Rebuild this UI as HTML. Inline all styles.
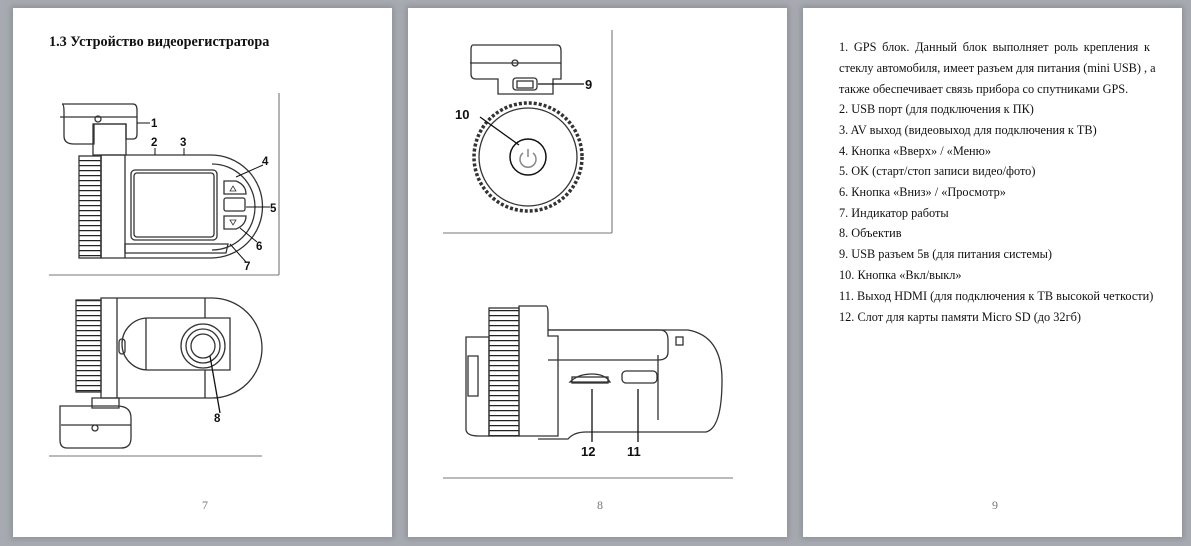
<!DOCTYPE html>
<html><head><meta charset="utf-8"><style>
html,body{margin:0;padding:0}
body{width:1191px;height:546px;background:#a7abb1;position:relative;overflow:hidden;font-family:"Liberation Serif",serif}
.pg{position:absolute;top:8px;width:379px;height:529px;background:#fff;box-shadow:0 0 6px 2px #8d9197}
.num{position:absolute;top:490px;font-size:12px;color:#777;width:20px;text-align:center}
.t{position:absolute;left:36px;font-size:12.3px;color:#111;white-space:nowrap}
svg{position:absolute;left:0;top:0}
</style></head><body>
<div class="pg" style="left:13px"><div style="position:absolute;left:36px;top:26px;font-weight:bold;font-size:14.2px;color:#111">1.3 Устройство видеорегистратора</div><div class="num" style="left:182px">7</div></div>
<div class="pg" style="left:408px"><div class="num" style="left:182px">8</div></div>
<div class="pg" style="left:803px">
<div class="t" style="top:32px;width:311px;text-align:justify;text-align-last:justify">1. GPS блок. Данный блок выполняет роль крепления к</div>
<div class="t" style="top:53px;width:311px;text-align:justify;text-align-last:justify">стеклу автомобиля, имеет разъем для питания (mini USB) , а</div>
<div class="t" style="top:74px">также обеспечивает связь прибора со спутниками GPS.</div>
<div class="t" style="top:94px">2. USB порт (для подключения к ПК)</div>
<div class="t" style="top:115px">3. AV выход (видеовыход для подключения к ТВ)</div>
<div class="t" style="top:136px">4. Кнопка «Вверх» / «Меню»</div>
<div class="t" style="top:156px">5. OK (старт/стоп записи видео/фото)</div>
<div class="t" style="top:177px">6. Кнопка «Вниз» / «Просмотр»</div>
<div class="t" style="top:198px">7. Индикатор работы</div>
<div class="t" style="top:218px">8. Объектив</div>
<div class="t" style="top:239px">9. USB разъем 5в (для питания системы)</div>
<div class="t" style="top:260px">10. Кнопка «Вкл/выкл»</div>
<div class="t" style="top:281px">11. Выход HDMI (для подключения к ТВ высокой четкости)</div>
<div class="t" style="top:302px">12. Слот для карты памяти Micro SD (до 32гб)</div>
<div class="num" style="left:182px">9</div>
</div>
<svg width="1191" height="546" fill="none" stroke="#333" stroke-width="1.3">
<defs><pattern id="rib" width="22" height="5" patternUnits="userSpaceOnUse"><rect width="22" height="5" fill="#fff" stroke="none"/><line x1="0" y1="0.5" x2="22" y2="0.5" stroke="#222" stroke-width="1.6"/></pattern></defs>
<g stroke="#777" stroke-width="1.1"><line x1="279" y1="93" x2="279" y2="275"/><line x1="49" y1="275" x2="279" y2="275"/>
<line x1="49" y1="456" x2="262" y2="456"/><line x1="612" y1="30" x2="612" y2="233"/><line x1="443" y1="233" x2="612" y2="233"/><line x1="443" y1="478" x2="733" y2="478"/></g>
<!-- drawing 1 -->
<path d="M62 104 h71 q4 0 4 6 v24 q0 5 -4 5 h-7 v-15 h-32 v20 h-20 q-10 0 -10 -8 v-24 q0 -8 -2 -8z"/>
<line x1="60" y1="117" x2="137" y2="117"/><circle cx="98" cy="119" r="3"/>
<path d="M93 124 h33 v31 h-33z"/>
<rect x="79" y="156" width="22" height="102" fill="url(#rib)"/>
<path d="M101 155 h110 a51 51 0 0 1 0 103 h-110z"/>
<path d="M212 164 a42 42 0 0 1 0 86"/>
<line x1="101" y1="155" x2="101" y2="258"/><line x1="125" y1="155" x2="125" y2="258"/>
<rect x="131" y="170" width="86" height="70" rx="4"/><rect x="134" y="173" width="80" height="64" rx="3"/>
<path d="M224 181 h12 q10 4 10 13 h-22z"/><rect x="224" y="198" width="21" height="13" rx="2"/><path d="M224 216 h22 q0 9 -10 13 h-12z"/>
<path d="M230 191 l3 -5 l3 5z M230 220 l3 5 l3 -5z" stroke-width="0.8"/>
<path d="M125 244 h103 l-2 9 h-101z"/>
<g stroke="#111" stroke-width="1"><line x1="137" y1="123" x2="150" y2="123"/><line x1="155" y1="148" x2="155" y2="155"/><line x1="184" y1="148" x2="184" y2="155"/><line x1="263" y1="165" x2="236" y2="177"/><line x1="270" y1="207" x2="246" y2="207"/><line x1="257" y1="242" x2="240" y2="228"/><line x1="246" y1="262" x2="230" y2="244"/></g>
<!-- drawing 2 -->
<rect x="76" y="300" width="25" height="92" fill="url(#rib)"/>
<path d="M101 298 h111 a50 50 0 0 1 0 100 h-111z"/><line x1="117" y1="298" x2="117" y2="398"/>
<path d="M148 318 h82 v52 h-82 a26 26 0 0 1 0 -52z"/><line x1="146" y1="318" x2="146" y2="370"/><line x1="205" y1="298" x2="205" y2="318"/><line x1="205" y1="370" x2="205" y2="398"/>
<circle cx="203" cy="346" r="22"/><circle cx="203" cy="346" r="17"/><circle cx="203" cy="346" r="12"/>
<rect x="119" y="339" width="6" height="15" rx="3"/>
<path d="M92 398 h27 v10 h-27z"/><path d="M62 406 h55 q14 0 14 12 v20 q0 10 -10 10 h-54 q-7 0 -7 -8 v-34z"/>
<line x1="61" y1="425" x2="131" y2="425"/><circle cx="95" cy="428" r="3"/>
<line x1="220" y1="413" x2="210" y2="356" stroke="#111"/>
<!-- page2 drawing 1 -->
<path d="M473 45 h84 q4 0 4 6 v28 h-8 v15 h-55 v-15 h-22 q-5 0 -5 -5 v-24 q0 -5 2 -5z"/><line x1="470" y1="63" x2="561" y2="63"/><circle cx="515" cy="63" r="3"/>
<rect x="513" y="78" width="24" height="12" rx="3"/><rect x="517" y="81" width="16" height="7"/>
<circle cx="528" cy="157" r="54" stroke-width="3.5" stroke-dasharray="3 2"/><circle cx="528" cy="157" r="49"/>
<circle cx="528" cy="157" r="18" stroke="#111" stroke-width="1.5"/>
<path d="M523 153 a8 8 0 1 0 10 0 M528 149 v8" stroke="#888" stroke-width="1.5"/>
<g stroke="#111"><line x1="538" y1="84" x2="584" y2="84"/><line x1="480" y1="117" x2="519" y2="145"/></g>
<!-- page2 drawing 2 -->
<rect x="489" y="308" width="30" height="128" fill="url(#rib)"/>
<path d="M519 306 h27 q2 0 2 8 v22 h10 v100 h-39z"/>
<path d="M548 330 h120 q10 0 20 0 q34 6 34 50 q0 48 -16 52 h-120 q-12 0 -18 7 h-30"/>
<path d="M548 330 h112 q8 0 8 10 v12 q0 8 -10 8 h-110"/>
<path d="M466 337 h23 v99 h-10 q-12 0 -13 -6z"/><path d="M468 356 h10 v40 h-10z"/>
<path d="M570 382 h40 q-5 -8 -18 -8 q-14 0 -22 8z"/><rect x="572" y="377" width="36" height="6"/>
<rect x="622" y="371" width="35" height="12" rx="4"/><line x1="658" y1="355" x2="658" y2="420"/>
<rect x="676" y="337" width="7" height="8"/>
<g stroke="#111"><line x1="592" y1="389" x2="592" y2="442"/><line x1="638" y1="389" x2="638" y2="442"/></g>
<g fill="#111" stroke="none" font-family="Liberation Sans,sans-serif" font-weight="bold" font-size="11.5">
<text x="151" y="127">1</text><text x="151" y="146">2</text><text x="180" y="146">3</text><text x="262" y="165">4</text><text x="270" y="212">5</text><text x="256" y="250">6</text><text x="244" y="270">7</text><text x="214" y="422">8</text>
<text x="585" y="89" font-size="13">9</text><text x="455" y="119" font-size="13">10</text><text x="581" y="456" font-size="13">12</text><text x="627" y="456" font-size="13">11</text></g>
</svg>
</body></html>
